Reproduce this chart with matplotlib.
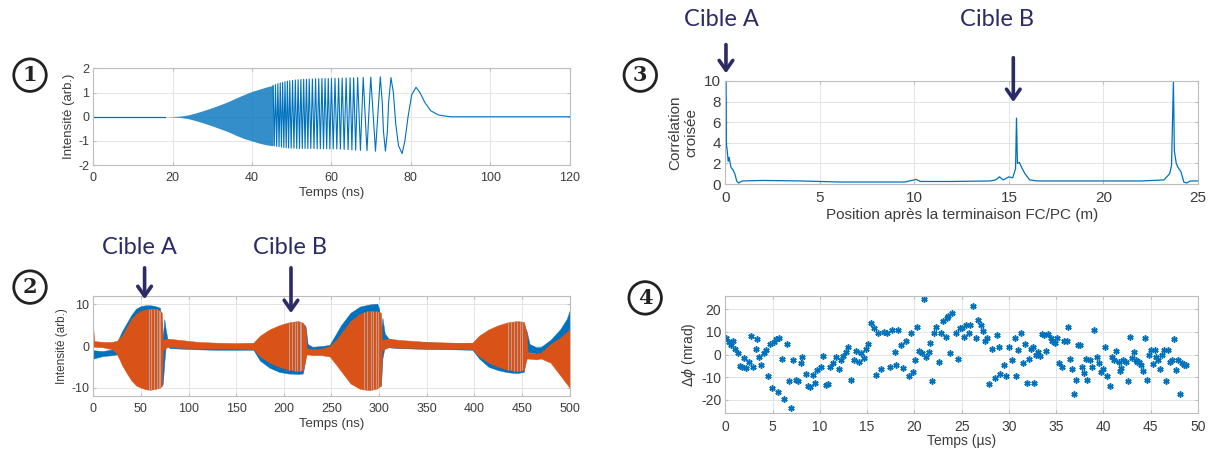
import matplotlib
matplotlib.use('Agg')
import matplotlib.pyplot as plt
from matplotlib.patches import FancyArrowPatch
import numpy as np

# ---------- data ----------
# panel 1 : chirp, dense part as envelope, then visible cycles as extrema
p1_env_t = [18, 20, 22, 24, 26, 28, 30, 32, 34, 36, 38, 40, 42, 44, 45.3]
p1_env_hi = [0, 0.01, 0.03, 0.08, 0.17, 0.27, 0.38, 0.5, 0.63, 0.78, 0.92, 1.05, 1.15, 1.25, 1.30]
p1_env_lo = [0, -0.01, -0.03, -0.08, -0.17, -0.27, -0.38, -0.5, -0.62, -0.77, -0.9, -1.0, -1.1, -1.17, -1.2]

p1_peak_t = [45.3, 45.9, 46.5, 47.1, 47.7, 48.3, 48.9, 49.5, 50.2, 50.9, 51.6, 52.3, 53.0, 53.7,
             54.4, 55.2, 56.0, 56.8, 57.6, 58.4, 59.2, 60.0, 60.9, 61.8, 62.7, 63.7, 64.7, 65.6,
             66.6, 68.0, 69.9]
p1_peak_v = [1.30, 1.33, 1.37, 1.40, 1.42, 1.45, 1.47, 1.49, 1.50, 1.52, 1.53, 1.54, 1.55, 1.55,
             1.56, 1.56, 1.57, 1.57, 1.58, 1.58, 1.58, 1.58, 1.59, 1.59, 1.60, 1.60, 1.61, 1.61,
             1.62, 1.63, 1.64]
p1_trough_t = [45.6, 46.2, 46.8, 47.4, 48.0, 48.6, 49.2, 49.85, 50.55, 51.25, 51.95, 52.65, 53.35,
               54.05, 54.8, 55.6, 56.4, 57.2, 58.0, 58.8, 59.6, 60.45, 61.35, 62.25, 63.2, 64.2,
               65.15, 66.1, 67.3, 68.95, 71.1]
p1_trough_v = [-1.20, -1.22, -1.24, -1.25, -1.27, -1.28, -1.29, -1.30, -1.30, -1.31, -1.31, -1.31,
               -1.31, -1.31, -1.31, -1.31, -1.32, -1.32, -1.32, -1.32, -1.33, -1.33, -1.33, -1.34,
               -1.35, -1.36, -1.37, -1.38, -1.39, -1.40, -1.42]
p1_tail_t = [72.3, 72.8, 73.1, 73.6, 74.1, 74.4, 75.0, 75.6, 76.2, 76.9, 77.8, 78.5, 79.3, 80.2,
             81.3, 82.3, 83.5, 85, 87, 90, 120]
p1_tail_v = [1.65, 0.6, -0.6, -1.42, -0.6, 0.6, 1.62, 1.0, -0.3, -1.2, -1.52, -1.0, 0.0, 0.9,
             1.22, 1.0, 0.6, 0.25, 0.07, 0.0, 0.0]

# panel 2 : two detected traces, envelopes (t, high, low)
p2_blue_t = [0, 10, 20, 25, 30, 35, 40, 45, 50, 55, 60, 65, 70, 72, 73, 74.5, 76, 78, 80, 90,
             110, 130, 150, 168, 175, 185, 195, 205, 215, 220, 222, 223, 225, 230, 240, 248, 255,
             260, 270, 280, 290, 298, 300, 302, 303.5, 306, 310, 320, 350, 380, 398, 405, 415,
             425, 435, 445, 452, 454, 455, 458, 465, 470, 480, 490, 497, 500]
p2_blue_hi = [-1.0, -1.2, -0.8, 1.0, 3.5, 5.5, 7.5, 9.0, 9.6, 9.8, 9.8, 9.6, 9.2, 5, 2, 6.5, 4,
              1.5, 1.2, 1.0, 0.8, 0.6, 0.6, 0.6, 2.0, 3.5, 4.5, 5.2, 5.4, 5.4, 5.0, 4.5, 0.5,
              -0.2, 0.0, 0.3, 3.0, 5.0, 8.0, 9.5, 10.0, 10.2, 9.0, 3, 6.8, 3, 1.8, 1.2, 0.9, 0.7,
              0.7, 2.0, 3.5, 4.5, 5.2, 5.5, 5.3, 4.0, 3.5, 0.5, -0.3, -0.2, 1.5, 4.0, 6.5, 8.5]
p2_blue_lo = [-3.0, -2.4, -2.2, -2.0, -3.5, -5.5, -7.5, -8.5, -9.0, -9.2, -9.5, -9.5, -9.5, -9.5,
              -9, -4, 0, 0, -0.5, -0.6, -0.8, -0.9, -0.9, -0.9, -3.5, -5.2, -6.2, -6.6, -6.7,
              -6.6, -4, -1, -1.5, -1.6, -1.6, -1.5, -3.5, -5.5, -8.5, -9.8, -10.0, -9.8, -9.6,
              -9.5, -3, 0, -0.3, -0.5, -0.7, -0.8, -0.9, -3.0, -5.0, -5.8, -6.3, -6.5, -6.2,
              -3.0, -1.5, -1.5, -1.8, -1.8, -2.2, -3.5, -5, -6]
p2_orange_t = [0, 1, 10, 20, 25, 30, 35, 40, 45, 50, 55, 60, 65, 70, 72, 73, 78, 90, 110, 130,
               150, 168, 175, 185, 195, 205, 215, 220, 223, 224, 230, 240, 248, 255, 260, 270,
               280, 290, 298, 302, 303, 310, 320, 350, 380, 398, 405, 415, 425, 435, 445, 452,
               455, 456, 465, 470, 480, 490, 500]
p2_orange_hi = [4.0, 1.2, 1.0, 1.0, 1.3, 2.5, 4.5, 6.5, 7.8, 8.5, 8.8, 9.0, 9.0, 8.5, 8, 1.5, 1.8,
                1.5, 1.0, 0.8, 0.7, 0.8, 2.5, 4.0, 5.0, 5.7, 6.0, 5.6, 4, -0.5, -0.8, -0.6, 0.0,
                1.5, 3.0, 6.0, 7.8, 8.5, 8.3, 8, 1.5, 1.8, 1.5, 1.0, 0.8, 0.8, 2.5, 4.0, 5.0, 5.7,
                6.0, 5.8, 3, -1.5, -1.8, -1.5, 0.5, 2.0, 4.0]
p2_orange_lo = [0.0, -0.2, -0.3, -0.8, -2.0, -4.5, -6.5, -8.3, -9.5, -10.0, -10.4, -10.5, -10.3,
                -10.0, -9.5, -1.0, -0.2, -0.4, -0.6, -0.6, -0.6, -0.8, -2.5, -4.0, -5.0, -5.7,
                -6.0, -5.8, -3, -2.0, -2.2, -2.2, -2.5, -4.5, -6.0, -9.0, -10.3, -10.6, -10.2,
                -9.5, -1.0, -0.3, -0.4, -0.6, -0.6, -0.8, -2.5, -4.0, -5.0, -5.7, -6.0, -5.8, -3,
                -3.0, -3.2, -3.0, -4.0, -7.0, -10.0]
# last resolved cycles at the end of each burst (light strands)
p2_strand_t = [58, 61, 64, 66.5, 68.5, 70.5, 205, 208.5, 211.5, 214, 216.5, 218.5,
               284, 287.5, 291, 294, 296.5, 299, 435, 438.5, 442, 445, 447.5, 450]

# panel 3 : cross-correlation vs position
p3_x = [0, 0.02, 0.05, 0.1, 0.15, 0.2, 0.3, 0.4, 0.5, 0.6, 0.7, 0.9, 2, 4, 6, 8, 9.5, 10.1, 10.3,
        12, 14, 14.3, 14.5, 14.7, 15.0, 15.2, 15.35, 15.4, 15.45, 15.55, 15.7, 15.85, 16.1, 16.5,
        18, 20, 22, 23.2, 23.4, 23.5, 23.6, 23.7, 23.75, 23.85, 23.95, 24.1, 24.25, 24.4, 24.6, 25]
p3_y = [0.5, 10, 4, 3.2, 2.2, 2.6, 1.6, 1.4, 1.0, 0.3, 0.1, 0.3, 0.35, 0.3, 0.2, 0.2, 0.2, 0.45,
        0.25, 0.25, 0.3, 0.4, 0.7, 0.4, 0.7, 0.6, 1.5, 6.4, 2.0, 2.1, 1.5, 1.0, 0.4, 0.3, 0.3, 0.3,
        0.3, 0.4, 0.8, 1.0, 1.8, 10, 3.2, 2.0, 1.6, 1.2, 0.2, 0.1, 0.3, 0.3]

# panel 4 : phase difference vs time
p4_t = [0.1, 0.4, 0.6, 0.8, 1.0, 1.3, 1.5, 1.8, 2.0, 2.2, 2.5, 2.7, 2.9, 3.2, 3.4, 3.6, 3.8, 4.1,
        4.3, 4.5, 4.7, 4.9, 5.1, 5.4, 5.6, 5.7, 6.0, 6.2, 6.5, 6.7, 6.9, 7.2, 7.5, 7.7, 8.0, 8.1,
        8.5, 8.7, 9.0, 9.3, 9.5, 9.7, 10.1, 10.3, 10.6, 10.9, 11.1, 11.4, 11.7, 12.0, 12.2, 12.4,
        12.8, 13.0, 13.3, 13.6, 13.8, 14.1, 14.4, 14.7, 14.9, 15.1, 15.4, 15.7, 15.9, 16.2, 16.5,
        16.8, 17.1, 17.4, 17.6, 17.9, 18.1, 18.3, 18.6, 18.8, 19.1, 19.4, 19.6, 19.9, 20.1, 20.3,
        20.5, 20.8, 21.0, 21.2, 21.5, 21.7, 21.9, 22.1, 22.3, 22.6, 22.8, 23.0, 23.3, 23.4, 23.6,
        23.8, 24.0, 24.4, 24.6, 24.8, 25.0, 25.2, 25.5, 25.8, 25.9, 26.2, 26.5, 26.7, 27.0, 27.3,
        27.5, 27.7, 27.9, 28.2, 28.5, 28.7, 29.0, 29.1, 29.5, 29.7, 30.0, 30.3, 30.6, 30.8, 31.0,
        31.3, 31.5, 31.7, 31.9, 32.1, 32.3, 32.5, 32.7, 32.9, 33.1, 33.3, 33.5, 33.7, 33.9, 34.1,
        34.4, 34.6, 34.9, 35.1, 35.3, 35.6, 35.8, 36.1, 36.3, 36.5, 36.7, 36.9, 37.1, 37.3, 37.5,
        37.7, 37.9, 38.1, 38.3, 38.6, 38.8, 39.0, 39.3, 39.5, 39.7, 39.9, 40.2, 40.4, 40.7, 40.9,
        41.1, 41.3, 41.6, 41.7, 41.9, 42.1, 42.4, 42.6, 42.8, 43.0, 43.2, 43.4, 43.6, 43.8, 44.0,
        44.2, 44.4, 44.6, 44.8, 45.0, 45.2, 45.4, 45.6, 45.8, 46.0, 46.2, 46.4, 46.6, 46.8, 47.0,
        47.2, 47.5, 47.7, 47.9, 48.1, 48.3, 48.5, 48.7]
p4_v = [7.2, 5.7, 4.3, 6.0, 2.4, 0.6, -4.9, -5.3, -1.6, -6.0, -3.1, 8.4, -5.3, 2.4, 6.8, -1.3,
        -4.6, 0.6, 2.1, -9.4, 4.7, -15.0, 5.7, 6.8, -16.6, 7.5, -2.1, -19.7, 4.6, -11.9, -23.8,
        -2.6, -11.2, -11.9, -3.8, -0.9, -8.5, -13.8, -14.4, -9.0, -12.6, -6.8, -5.3, -0.6, -13.4,
        -12.9, -5.3, -3.8, -1.2, -6.5, -2.6, -0.6, 1.3, 3.2, -11.2, -2.4, 1.6, -3.1, 0.6, -1.6,
        2.4, 4.6, 13.8, 11.6, -9.1, 9.7, -6.5, 10.1, 9.4, -5.7, 10.9, 1.3, -4.6, 10.9, 4.3, -6.0,
        6.2, -9.7, 9.7, -7.9, -2.6, 12.1, 1.6, 0.9, 24.7, -1.2, 1.3, 5.0, -11.6, 9.4, 12.4, -3.5,
        9.4, 15.0, 7.9, 16.0, 17.0, 0.6, 18.5, 9.7, -2.1, 11.6, 11.6, 7.9, 13.1, 9.4, 13.1, 21.6,
        7.2, 15.3, 13.1, 10.6, 6.2, 7.2, -13.1, 2.6, -10.4, 8.7, 3.2, -8.5, -4.6, -9.7, 3.5, -2.4,
        7.2, -9.4, 2.1, 9.4, -3.8, 4.7, -12.6, -2.1, 2.4, 3.5, -12.6, -0.1, 1.3, -0.6, 9.1, 8.7,
        1.6, 9.1, 7.2, 6.2, 5.3, 7.2, -3.8, -5.3, 6.0, 6.0, 12.1, -2.1, -6.2, -17.4, -11.2, 4.1,
        4.3, -5.7, -8.2, -1.8, -11.2, -2.6, -5.3, 10.9, -1.2, -3.8, -7.9, -6.5, 3.2, -9.4, -14.1,
        -0.9, -2.4, 1.6, -3.5, -7.5, -6.0, -2.4, -3.1, -11.9, 7.9, -1.6, 1.3, -2.4, -3.5, -3.5,
        -4.6, -7.5, 7.2, -11.2, -0.1, 2.1, -4.3, 2.1, -1.2, -2.4, -6.5, -0.1, 2.1, -11.9, 1.8,
        -3.5, -2.4, 6.8, -6.8, -2.6, -17.4, -3.8, -4.6, -4.6]

blue = '#0072BD'
orange = '#D95319'
navy = '#2B2B66'
txtcol = '#3c3c3c'

plt.rcParams['font.family'] = ['Liberation Sans', 'DejaVu Sans']
plt.rcParams['axes.unicode_minus'] = False


def matlab_style(ax, size):
    ax.grid(True, color='#e4e4e4', lw=0.7)
    ax.set_axisbelow(True)
    for s in ax.spines.values():
        s.set_color('#bdbdbd')
        s.set_linewidth(0.8)
    ax.tick_params(direction='in', length=2.5, color='#bdbdbd', labelsize=size,
                   labelcolor=txtcol, top=True, right=True)
    ax.tick_params(axis='x', pad=5)
    ax.tick_params(axis='y', pad=3)


fig = plt.figure(figsize=(12.15, 4.5), dpi=100)

# ---- panel 1 ----
ax1 = fig.add_axes([0.0768, 0.633, 0.392, 0.215])
matlab_style(ax1, 9)
ax1.fill_between(p1_env_t, p1_env_hi, p1_env_lo, color=blue, alpha=0.8, lw=0)
ax1.plot([0, 18], [0, 0], color=blue, lw=0.9)
line_t = [v for pair in zip(p1_peak_t, p1_trough_t) for v in pair] + p1_tail_t
line_v = [v for pair in zip(p1_peak_v, p1_trough_v) for v in pair] + p1_tail_v
ax1.plot(line_t, line_v, color=blue, lw=0.8)
ax1.set_xlim(0, 120)
ax1.set_ylim(-2, 2)
ax1.set_xticks(range(0, 121, 20))
ax1.set_yticks([-2, -1, 0, 1, 2])
ax1.set_xlabel('Temps (ns)', fontsize=9.5, color=txtcol, labelpad=2)
ax1.set_ylabel('Intensité (arb.)', fontsize=9.5, color=txtcol, labelpad=2)

# ---- panel 2 ----
ax2 = fig.add_axes([0.0768, 0.12, 0.392, 0.222])
matlab_style(ax2, 9)
ax2.fill_between(p2_blue_t, p2_blue_hi, p2_blue_lo, color=blue, lw=0.3)
ax2.fill_between(p2_orange_t, p2_orange_hi, p2_orange_lo, color=orange, lw=0.3)
s_hi = np.interp(p2_strand_t, p2_orange_t, p2_orange_hi)
s_lo = np.interp(p2_strand_t, p2_orange_t, p2_orange_lo)
ax2.vlines(p2_strand_t, s_lo, s_hi, color='#b9a6a6', lw=0.7, alpha=0.9)
ax2.set_xlim(0, 500)
ax2.set_ylim(-12, 12)
ax2.set_xticks(range(0, 501, 50))
ax2.set_yticks([-10, 0, 10])
ax2.set_xlabel('Temps (ns)', fontsize=9.5, color=txtcol, labelpad=2)
ax2.set_ylabel('Intensité (arb.)', fontsize=8.5, color=txtcol, labelpad=2)

# ---- panel 3 ----
ax3 = fig.add_axes([0.597, 0.591, 0.389, 0.229])
matlab_style(ax3, 11)
ax3.plot(p3_x, p3_y, color=blue, lw=0.9)
ax3.set_xlim(0, 25)
ax3.set_ylim(0, 10)
ax3.set_xticks(range(0, 26, 5))
ax3.set_yticks(range(0, 11, 2))
ax3.set_xlabel('Position après la terminaison FC/PC (m)', fontsize=11, color=txtcol, labelpad=2)
ax3.set_ylabel('Corrélation\ncroisée', fontsize=11, color=txtcol, labelpad=4)

# ---- panel 4 ----
ax4 = fig.add_axes([0.597, 0.0816, 0.389, 0.261])
matlab_style(ax4, 10)
ax4.plot(p4_t, p4_v, ls='none', marker=(6, 2, 0), ms=4.5, mew=1.1, color=blue)
ax4.set_xlim(0, 50)
ax4.set_ylim(-26, 26)
ax4.set_xticks(range(0, 51, 5))
ax4.set_yticks([-20, -10, 0, 10, 20])
ax4.set_xlabel('Temps (µs)', fontsize=10, color=txtcol, labelpad=0)
ax4.set_ylabel(r'$\Delta\phi$ (mrad)', fontsize=10, color=txtcol, labelpad=2)

# ---- circled numbers ----
for txt, x, y in [('1', 0.0247, 0.833), ('2', 0.0247, 0.362), ('3', 0.527, 0.833), ('4', 0.531, 0.338)]:
    fig.text(x, y, txt, ha='center', va='center', fontsize=15, fontweight='bold',
             family='DejaVu Serif', color='#222222',
             bbox=dict(boxstyle='circle,pad=0.3', fc='white', ec='#222222', lw=2))

# ---- target annotations ----
for txt, x, y in [('Cible A', 0.115, 0.451), ('Cible B', 0.239, 0.451),
                  ('Cible A', 0.594, 0.956), ('Cible B', 0.8206, 0.956)]:
    fig.text(x, y, txt, ha='center', va='center', fontsize=17, color=navy, family='Lato')

for x, y0, y1 in [(0.119, 0.411, 0.329), (0.2395, 0.411, 0.298),
                  (0.5975, 0.907, 0.831), (0.834, 0.878, 0.767)]:
    fig.add_artist(FancyArrowPatch((x, y0), (x, y1), transform=fig.transFigure,
                                   arrowstyle='->,head_length=0.5,head_width=0.35',
                                   mutation_scale=14, lw=2.6, color=navy))

fig.savefig('out.png', dpi=100)
